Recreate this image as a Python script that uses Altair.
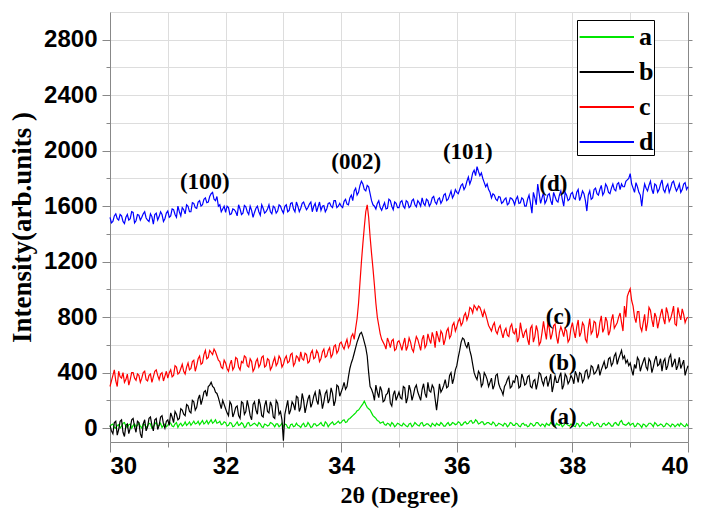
import altair as alt
import pandas as pd

# ---------------- data ----------------
# *_vals: intensities at 2theta = 30.00, 30.05, ... 40.00
# *_mid : intensities at 2theta = 30.025, 30.075, ... 39.975
step = 0.05

a_vals = [
    10, 30, 0, 25, 15, 40, 5, 30, 20, 10, 35, 0, 25, 15, 30, 10, 40, 20, 5, 30,
    20, 35, 10, 40, 25, 15, 45, 30, 20, 50, 35, 25, 55, 40, 30, 60, 45, 35, 50, 30,
    40, 20, 35, 15, 45, 25, 30, 10, 40, 20, 35, 15, 30, 5, 25, 20, 35, 10, 30, 20,
    10, 25, 0, 30, 15, 20, 5, 35, 15, 25, 10, 30, 20, 40, 15, 35, 25, 45, 30, 50,
    40, 60, 45, 70, 90, 110, 130, 160, 195, 150, 130, 90, 70, 50, 40, 25, 35, 15, 30, 20,
    30, 15, 25, 10, 35, 20, 30, 15, 40, 20, 30, 10, 25, 35, 20, 30, 15, 40, 25, 35,
    30, 40, 25, 45, 35, 55, 40, 50, 35, 45, 30, 40, 25, 35, 20, 30, 15, 30, 20, 35,
    20, 30, 10, 35, 25, 15, 30, 20, 40, 15, 25, 35, 20, 30, 10, 25, 35, 20, 30, 15,
    25, 10, 30, 20, 35, 15, 25, 40, 20, 30, 10, 35, 25, 30, 15, 40, 20, 55, 25, 30,
    20, 35, 15, 30, 5, 25, 20, 35, 10, 30, 20, 25, 15, 30, 10, 25, 20, 15, 25, 10, 15,
]
a_mid = [
    25, 5, 20, 0, 35, 15, 25, 0, 30, 20, 15, 30, 5, 35, 0, 30, 15, 35, 20, 10,
    40, 15, 30, 5, 35, 25, 20, 45, 35, 30, 50, 40, 30, 55, 45, 35, 60, 40, 25, 45,
    15, 40, 10, 30, 20, 40, 5, 35, 15, 30, 25, 40, 10, 30, 15, 40, 25, 30, 10, 35,
    30, 5, 25, 10, 35, 15, 25, 10, 40, 5, 30, 15, 30, 20, 45, 10, 35, 25, 40, 35,
    55, 40, 65, 80, 100, 125, 145, 175, 170, 140, 110, 80, 55, 35, 45, 20, 30, 40, 10, 35,
    20, 35, 15, 30, 10, 40, 20, 35, 15, 30, 20, 35, 15, 25, 40, 15, 30, 20, 40, 25,
    45, 20, 40, 30, 50, 35, 60, 30, 45, 25, 40, 30, 45, 15, 35, 25, 35, 10, 40, 20,
    35, 15, 30, 20, 10, 35, 15, 40, 25, 30, 10, 25, 40, 15, 35, 20, 10, 35, 20, 30,
    15, 35, 10, 40, 20, 30, 45, 15, 35, 10, 30, 20, 40, 15, 35, 25, 45, 30, 20, 40,
    30, 10, 35, 20, 30, 10, 35, 25, 40, 15, 30, 10, 35, 20, 30, 10, 30, 35, 15, 30,
]

b_vals = [
    20, -40, 50, -10, 60, -60, 30, 0, 70, -30, 40, -70, 60, 10, 80, -20, 70, 20, 90, 0,
    60, 110, 40, 100, 70, 130, 90, 160, 110, 190, 150, 240, 210, 270, 300, 330, 290, 250, 180, 200,
    140, 90, 170, 110, 160, 70, 180, 120, 150, 60, 190, 100, 170, 80, 200, 110, 160, 70, 180, 120,
    -90, 150, 100, 190, 130, 220, 150, 200, 160, 240, 180, 260, 170, 230, 190, 270, 210, 250, 200, 300,
    260, 330, 300, 430, 500, 580, 650, 690, 620, 520, 300, 250, 310, 220, 270, 200, 250, 180, 240, 200,
    260, 210, 290, 220, 270, 240, 310, 230, 280, 250, 330, 260, 290, 130, 320, 280, 350, 300, 400, 360,
    450, 560, 650, 600, 620, 520, 400, 350, 390, 320, 380, 300, 360, 310, 390, 290, 240, 320, 370, 300,
    330, 370, 300, 360, 320, 380, 290, 350, 330, 390, 310, 370, 340, 260, 380, 330, 400, 310, 370, 340,
    360, 410, 330, 390, 350, 420, 380, 440, 400, 460, 420, 480, 440, 510, 470, 540, 500, 560, 520, 490,
    470, 380, 430, 490, 450, 510, 420, 480, 440, 520, 460, 410, 500, 450, 530, 470, 420, 510, 460, 380, 450,
]
b_mid = [
    -20, 40, -50, 50, -30, 20, -40, 60, 10, 50, -40, 30, -20, 70, 20, 60, -10, 80, 30, 50,
    20, 80, 120, 60, 140, 100, 170, 120, 200, 130, 210, 170, 260, 230, 310, 300, 260, 220, 140, 170,
    110, 190, 80, 150, 90, 190, 100, 200, 90, 170, 130, 210, 90, 160, 120, 190, 80, 200, 100, 60,
    100, 200, 130, 170, 230, 120, 250, 110, 210, 150, 230, 200, 280, 140, 250, 180, 290, 160, 310, 230,
    290, 280, 370, 470, 540, 620, 680, 660, 580, 400, 280, 200, 260, 300, 190, 240, 290, 160, 270, 230,
    220, 300, 180, 310, 200, 290, 260, 200, 320, 220, 270, 310, 210, 220, 260, 310, 290, 380, 320, 420,
    510, 620, 640, 580, 560, 460, 370, 410, 300, 400, 350, 330, 280, 380, 320, 270, 300, 350, 290, 340,
    380, 290, 390, 310, 370, 300, 340, 280, 400, 340, 360, 300, 390, 310, 330, 370, 280, 390, 320, 380,
    320, 380, 400, 330, 410, 360, 450, 390, 420, 380, 450, 430, 500, 450, 520, 460, 530, 500, 470, 450,
    420, 460, 510, 410, 480, 440, 500, 400, 490, 450, 500, 480, 420, 510, 440, 500, 450, 430, 490, 420,
]

c_vals = [
    300, 380, 340, 410, 360, 330, 390, 350, 400, 345, 380, 360, 410, 340, 390, 370, 420, 350, 400, 375,
    360, 420, 380, 440, 400, 460, 390, 470, 430, 490, 450, 520, 470, 560, 510, 545, 570, 520, 480, 430,
    470, 410, 490, 440, 500, 420, 470, 510, 440, 480, 430, 500, 460, 520, 450, 490, 440, 510, 470, 500,
    460, 520, 480, 540, 470, 510, 550, 490, 530, 480, 560, 510, 540, 500, 570, 520, 580, 530, 600, 560,
    620, 570, 640, 600, 680, 720, 900, 1200, 1450, 1610, 1380, 1150, 900, 740, 640, 600, 650, 580, 640, 570,
    630, 560, 650, 590, 620, 550, 660, 600, 640, 580, 680, 610, 650, 700, 620, 680, 640, 720, 670, 760,
    730, 790, 760, 830, 810, 860, 885, 850, 870, 800, 820, 740, 700, 760, 680, 740, 650, 720, 660, 750,
    680, 620, 760, 650, 710, 600, 740, 660, 700, 620, 770, 640, 720, 680, 750, 610, 730, 660, 700, 640,
    760, 650, 780, 690, 740, 620, 790, 700, 760, 680, 810, 720, 770, 700, 820, 740, 800, 760, 880, 950,
    1005, 880, 760, 840, 700, 820, 760, 850, 730, 800, 770, 860, 750, 830, 790, 880, 740, 820, 860, 760, 800,
]
c_mid = [
    340, 420, 300, 370, 400, 350, 310, 400, 360, 390, 330, 400, 350, 380, 330, 410, 380, 390, 340, 410,
    400, 370, 450, 390, 430, 410, 440, 420, 480, 410, 500, 460, 530, 500, 560, 530, 550, 490, 440, 490,
    430, 460, 420, 510, 440, 480, 520, 450, 500, 410, 480, 440, 510, 440, 500, 420, 480, 450, 520, 440,
    500, 470, 530, 450, 520, 480, 500, 540, 470, 540, 500, 560, 480, 550, 510, 560, 510, 590, 540, 610,
    590, 610, 580, 660, 640, 790, 1050, 1330, 1560, 1520, 1260, 1030, 800, 680, 620, 570, 620, 630, 560, 620,
    600, 610, 560, 650, 570, 610, 640, 560, 670, 600, 640, 690, 580, 660, 700, 600, 700, 650, 740, 700,
    770, 740, 810, 780, 870, 830, 870, 880, 840, 850, 780, 720, 740, 700, 720, 690, 700, 670, 730, 690,
    720, 650, 700, 690, 640, 720, 620, 740, 600, 690, 700, 760, 640, 740, 660, 690, 700, 720, 620, 720,
    700, 730, 660, 760, 640, 720, 680, 770, 650, 760, 690, 800, 670, 780, 720, 760, 830, 700, 800, 980,
    920, 800, 840, 730, 760, 700, 870, 780, 830, 720, 820, 790, 870, 770, 830, 750, 870, 780, 820, 790,
]

d_vals = [
    1520, 1490, 1545, 1500, 1530, 1475, 1540, 1510, 1555, 1495, 1535, 1520, 1560, 1500, 1545, 1470, 1550, 1525, 1540, 1510,
    1565, 1530, 1575, 1520, 1560, 1590, 1545, 1600, 1560, 1620, 1585, 1640, 1610, 1660, 1630, 1690, 1650, 1670, 1610, 1580,
    1555, 1590, 1545, 1575, 1530, 1580, 1550, 1595, 1540, 1570, 1555, 1600, 1535, 1585, 1560, 1610, 1545, 1590, 1565, 1600,
    1550, 1610, 1570, 1625, 1560, 1600, 1585, 1630, 1575, 1615, 1560, 1620, 1595, 1570, 1605, 1580, 1625, 1590, 1640, 1600,
    1600, 1635, 1615, 1660, 1640, 1730, 1700, 1780, 1720, 1750, 1690, 1610, 1580, 1640, 1570, 1625, 1585, 1640, 1575, 1620,
    1590, 1640, 1585, 1630, 1600, 1650, 1595, 1625, 1660, 1605, 1640, 1620, 1670, 1615, 1660, 1640, 1690, 1650, 1710, 1680,
    1700, 1720, 1760, 1740, 1810, 1790, 1860, 1885, 1820, 1800, 1740, 1720, 1660, 1680, 1640, 1665, 1630, 1660, 1620, 1655,
    1610, 1670, 1625, 1650, 1600, 1680, 1550, 1660, 1760, 1620, 1700, 1640, 1690, 1610, 1670, 1630, 1710, 1600, 1680, 1650,
    1700, 1650, 1720, 1670, 1690, 1565, 1710, 1660, 1730, 1680, 1750, 1700, 1740, 1690, 1760, 1710, 1770, 1760, 1740, 1790,
    1835, 1730, 1770, 1700, 1600, 1760, 1710, 1780, 1690, 1750, 1720, 1790, 1700, 1760, 1730, 1780, 1710, 1760, 1720, 1770, 1740,
]
d_mid = [
    1480, 1530, 1510, 1540, 1490, 1520, 1500, 1560, 1480, 1540, 1500, 1545, 1515, 1490, 1525, 1540, 1500, 1560, 1490, 1550,
    1520, 1580, 1540, 1600, 1530, 1575, 1610, 1560, 1625, 1590, 1630, 1600, 1650, 1625, 1670, 1700, 1640, 1600, 1560, 1600,
    1600, 1540, 1580, 1560, 1610, 1540, 1605, 1560, 1600, 1520, 1585, 1560, 1610, 1550, 1580, 1560, 1600, 1550, 1610, 1570,
    1600, 1560, 1620, 1580, 1630, 1560, 1620, 1600, 1590, 1630, 1600, 1560, 1630, 1600, 1560, 1620, 1600, 1640, 1590, 1620,
    1590, 1650, 1610, 1680, 1710, 1680, 1750, 1760, 1710, 1740, 1640, 1600, 1620, 1590, 1600, 1580, 1650, 1600, 1630, 1590,
    1630, 1600, 1640, 1590, 1640, 1610, 1640, 1600, 1620, 1650, 1600, 1660, 1630, 1650, 1620, 1680, 1640, 1680, 1660, 1720,
    1690, 1750, 1720, 1780, 1760, 1840, 1820, 1850, 1840, 1770, 1760, 1700, 1690, 1650, 1670, 1620, 1650, 1610, 1660, 1640,
    1650, 1620, 1660, 1600, 1650, 1620, 1700, 1610, 1690, 1660, 1620, 1680, 1640, 1700, 1640, 1680, 1650, 1700, 1640, 1690,
    1660, 1700, 1640, 1710, 1640, 1680, 1650, 1720, 1690, 1720, 1680, 1760, 1700, 1730, 1720, 1760, 1720, 1740, 1780, 1800,
    1760, 1700, 1740, 1680, 1700, 1730, 1750, 1720, 1760, 1700, 1760, 1720, 1740, 1700, 1770, 1740, 1730, 1700, 1760, 1720,
]

series_names = ["a", "b", "c", "d"]
series_colors = ["#00e600", "#000000", "#ff0000", "#0000ff"]

ann_text = ["(100)", "(002)", "(101)", "(d)", "(c)", "(b)", "(a)"]
ann_x = [31.64, 34.26, 36.19, 37.67, 37.76, 37.83, 37.84]
ann_y = [1776, 1920, 1992, 1761, 802, 472, 81]

x_ticks = [30, 31, 32, 33, 34, 35, 36, 37, 38, 39, 40]
y_ticks = [0, 200, 400, 600, 800, 1000, 1200, 1400, 1600, 1800, 2000, 2200, 2400, 2600, 2800]

# ---------------- build tables ----------------
n = len(a_vals)
m = len(a_mid)
x_main = [round(30 + step * i, 3) for i in range(n)]
x_half = [round(30 + step / 2 + step * j, 3) for j in range(m)]
rows = []
for name, vals, mids in zip(series_names,
                            [a_vals, b_vals, c_vals, d_vals],
                            [a_mid, b_mid, c_mid, d_mid]):
    assert len(vals) == n and len(mids) == m, (name, len(vals), len(mids))
    for xv, v in zip(x_main, vals):
        rows.append({"theta": xv, "intensity": v, "series": name})
    for xv, v in zip(x_half, mids):
        rows.append({"theta": xv, "intensity": v, "series": name})
df = pd.DataFrame(rows).sort_values(["series", "theta"]).reset_index(drop=True)
ann = pd.DataFrame({"theta": ann_x, "intensity": ann_y, "label": ann_text})

xs = alt.Scale(domain=[30, 40], nice=False, zero=False)
ys = alt.Scale(domain=[-100, 3000], nice=False, zero=False)

SANS = "Liberation Sans"
SERIF = "Liberation Serif"

x_major_test = "datum.value % 2 === 0"
y_major_test = "datum.value % 400 === 0"

x_axis = alt.Axis(
    orient="bottom", values=x_ticks, format="d",
    tickSize={"condition": {"test": x_major_test, "value": 10}, "value": 5},
    labelExpr=f"{x_major_test} ? datum.label : ''",
    labelPadding=2,
    labelFont=SANS, labelFontSize=24, labelFontWeight="bold",
    title="2θ (Degree)", titleFont=SERIF, titleFontSize=24, titleFontWeight="bold",
    titlePadding=5)

lines = alt.Chart(df).mark_line(strokeWidth=1.2).encode(
    x=alt.X("theta:Q", scale=xs, axis=x_axis),
    y=alt.Y("intensity:Q", scale=ys, axis=alt.Axis(
        orient="left", values=y_ticks, format="d",
        tickSize={"condition": {"test": y_major_test, "value": 8}, "value": 4},
        labelExpr=f"{y_major_test} ? datum.label : ''",
        labelPadding=5,
        labelFont=SANS, labelFontSize=24, labelFontWeight="bold",
        title="Intensity(arb.units )", titleFont=SERIF, titleFontSize=27, titleFontWeight="bold",
        titlePadding=7)),
    color=alt.Color("series:N", scale=alt.Scale(domain=series_names, range=series_colors),
                    legend=alt.Legend(
                        orient="none", legendX=467, legendY=8, title=None,
                        symbolType="M-0.9,0H2.5", symbolSize=1024, symbolStrokeWidth=2,
                        labelFont=SERIF, labelFontSize=26, labelFontWeight="bold",
                        labelColor="black", labelOffset=28, padding=0, rowPadding=5,
                        strokeColor="black", fillColor="white")),
)

text = alt.Chart(ann).mark_text(font=SERIF, fontSize=23, fontWeight="bold", color="black").encode(
    x=alt.X("theta:Q", scale=xs, axis=x_axis),
    y=alt.Y("intensity:Q", scale=ys, axis=None),
    text="label:N",
)

right_ticks = alt.Chart(ann).mark_point(opacity=0).encode(
    x=alt.X("theta:Q", scale=xs, axis=x_axis),
    y=alt.Y("intensity:Q", scale=ys, axis=alt.Axis(
        orient="right", values=y_ticks, tickSize=4, labels=False, title=None)),
)

chart = alt.layer(lines, text, right_ticks).resolve_axis(
    y="independent"
).properties(
    width=578, height=430,
    autosize=alt.AutoSizeParams(type="none"),
    padding={"left": 102, "top": 4, "right": 6, "bottom": 75},
).configure_view(
    stroke="black", strokeWidth=2.5
).configure_axis(
    grid=False, domain=False, tickColor="black", tickWidth=2.5,
    labelColor="black", titleColor="black"
).configure(background="white")

chart.save("out.html", embed_options={"renderer": "svg", "actions": False})
